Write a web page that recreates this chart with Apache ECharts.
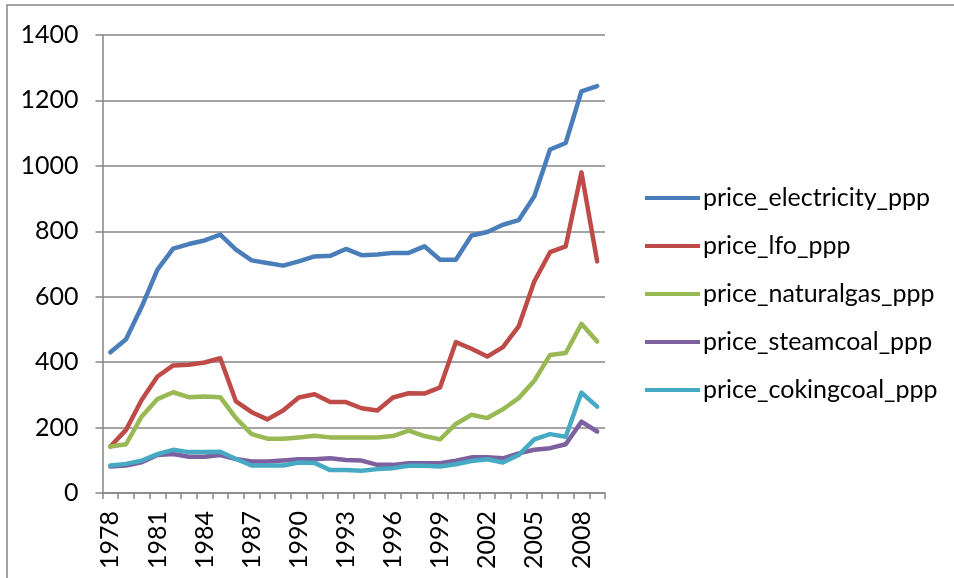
<!DOCTYPE html>
<html>
<head>
<meta charset="utf-8">
<script src="https://cdn.jsdelivr.net/npm/echarts@6/dist/echarts.min.js"></script>
<style>
  html, body { margin: 0; padding: 0; background: #fff; }
  #chart { width: 954px; height: 578px; }
</style>
</head>
<body>
<div id="chart"></div>
<script>
const years = [];
for (let y = 1978; y <= 2009; y++) years.push(String(y));

const electricity = [430, 470, 570, 683, 747, 761, 772, 790, 744, 711, 703, 695, 708, 723, 725, 746,
  727, 729, 734, 734, 754, 713, 713, 787, 798, 820, 834, 907, 1050, 1070, 1228, 1244];
const lfo = [142, 193, 285, 356, 390, 392, 399, 412, 280, 247, 225, 252, 292, 302, 278, 278,
  259, 252, 292, 305, 304, 323, 461, 441, 417, 446, 509, 647, 736, 754, 980, 708];
const naturalgas = [142, 149, 234, 287, 308, 293, 295, 293, 229, 180, 166, 166, 170, 175, 170, 170,
  170, 170, 174, 191, 174, 164, 211, 239, 229, 256, 290, 343, 422, 428, 517, 463];
const steamcoal = [81, 84, 94, 116, 119, 111, 111, 116, 104, 96, 96, 99, 103, 103, 106, 101,
  99, 86, 86, 91, 91, 91, 99, 109, 109, 106, 121, 132, 137, 149, 218, 188];
const cokingcoal = [84, 89, 99, 119, 132, 125, 125, 126, 104, 84, 84, 84, 93, 92, 70, 70,
  68, 73, 76, 83, 83, 81, 88, 98, 103, 93, 116, 164, 180, 172, 307, 264];

const seriesNames = ['price_electricity_ppp', 'price_lfo_ppp', 'price_naturalgas_ppp',
  'price_steamcoal_ppp', 'price_cokingcoal_ppp'];
const seriesData = [electricity, lfo, naturalgas, steamcoal, cokingcoal];
const colors = ['#4A7EBB', '#BE4B48', '#98B954', '#7D60A0', '#46AAC5'];

const font = 'Lato, "Liberation Sans", sans-serif';
const gray = '#868686';

const chart = echarts.init(document.getElementById('chart'), null, { renderer: 'canvas' });
chart.setOption({
  animation: false,
  color: colors,
  grid: { left: 102.5, right: 349, top: 35, bottom: 85 },
  graphic: [{
    type: 'rect',
    shape: { x: 7, y: 5, width: 1000, height: 700 },
    style: { fill: 'none', stroke: gray, lineWidth: 1.5 },
    silent: true
  }],
  legend: {
    orient: 'vertical',
    left: 645,
    top: 184,
    padding: 0,
    itemWidth: 55,
    itemHeight: 28,
    itemGap: 20,
    icon: 'path://M0,12 L55,12 L55,16 L0,16 Z',
    textStyle: { fontFamily: font, fontSize: 25, lineHeight: 28, color: '#000', padding: [0, 0, 0, -2] },
    data: seriesNames
  },
  xAxis: {
    type: 'category',
    data: years,
    boundaryGap: true,
    axisLine: { lineStyle: { color: gray, width: 1.5 } },
    axisTick: { show: true, interval: 0, length: 6, lineStyle: { color: gray, width: 1.5 } },
    axisLabel: {
      interval: 2,
      rotate: 90,
      margin: 18,
      fontFamily: font,
      fontSize: 25,
      color: '#000'
    },
    splitLine: { show: false }
  },
  yAxis: {
    type: 'value',
    min: 0,
    max: 1400,
    interval: 200,
    axisLine: { show: true, lineStyle: { color: gray, width: 1.5 } },
    axisTick: { show: true, length: 7, lineStyle: { color: gray, width: 1.5 } },
    axisLabel: { margin: 24, fontFamily: font, fontSize: 25, color: '#000', formatter: v => String(v) },
    splitLine: { show: true, lineStyle: { color: gray, width: 1.5 } }
  },
  series: seriesNames.map((name, i) => ({
    name: name,
    type: 'line',
    data: seriesData[i],
    symbol: 'none',
    lineStyle: { width: 4.5, cap: 'round', join: 'round', color: colors[i] }
  }))
});
</script>
</body>
</html>
